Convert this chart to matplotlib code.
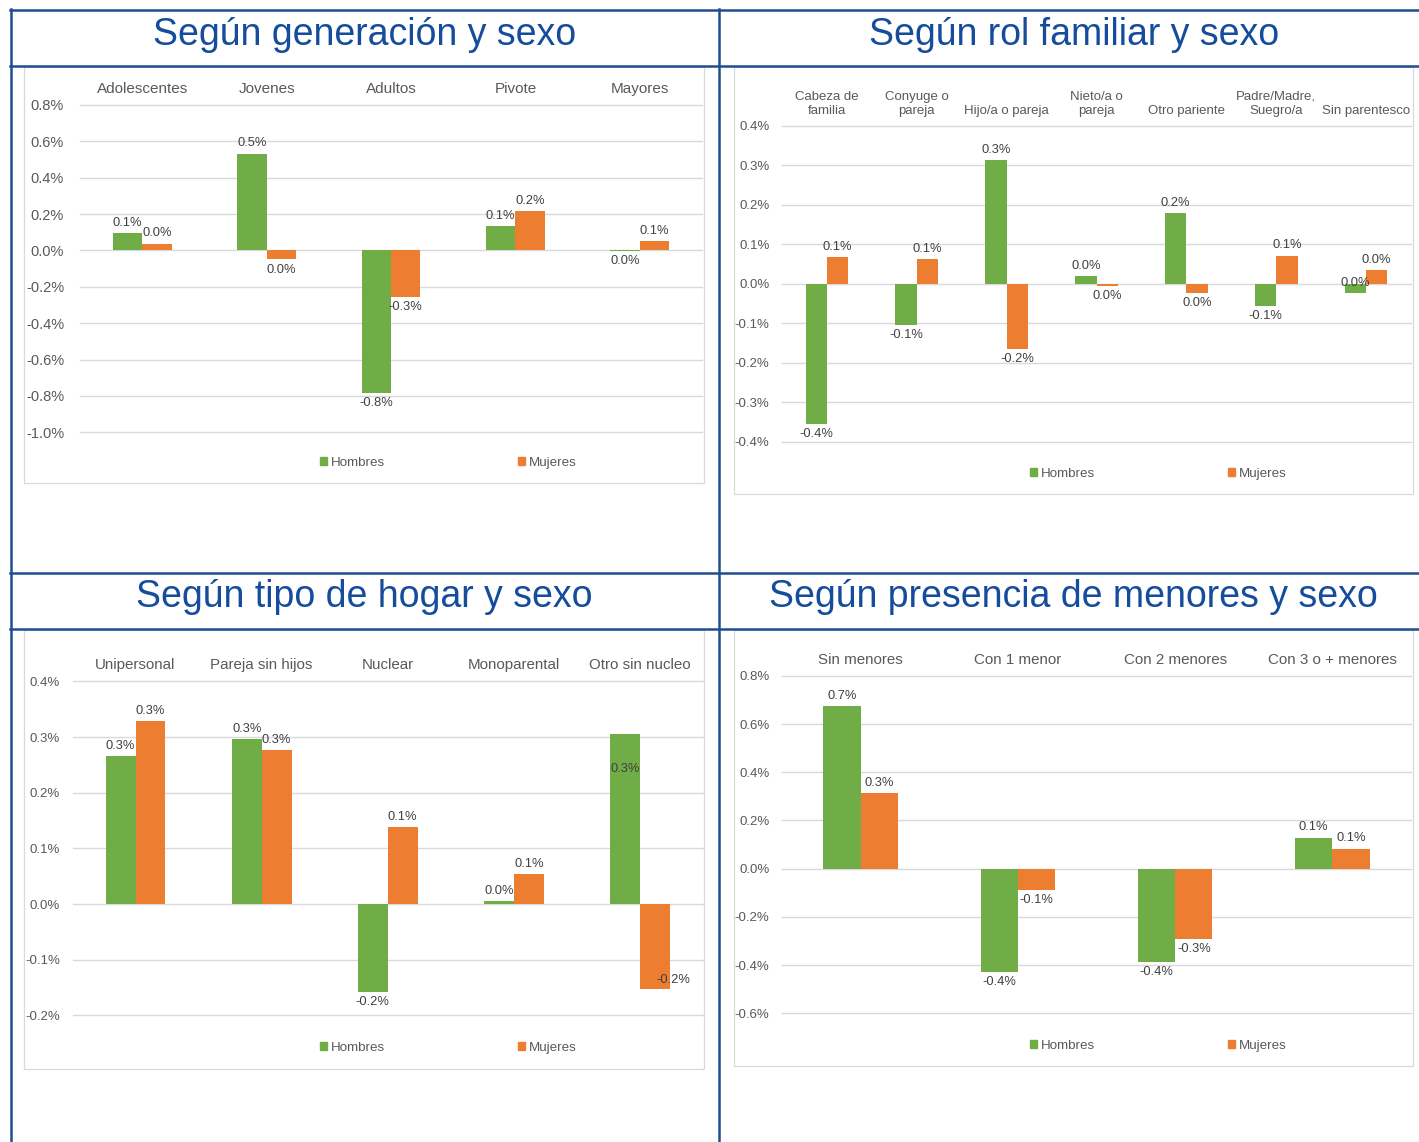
import numpy as np
import matplotlib
matplotlib.use("Agg")
import matplotlib.pyplot as plt
from matplotlib.lines import Line2D
from matplotlib.patches import Rectangle, Patch
from matplotlib.ticker import FuncFormatter

plt.rcParams['font.family'] = ['Liberation Sans', 'DejaVu Sans']

W, H = 1419, 1142

# --- data (percent change) ---
series_names = ['Hombres', 'Mujeres']

gen_title = 'Según generación y sexo'
gen_cats = ['Adolescentes', 'Jovenes', 'Adultos', 'Pivote', 'Mayores']
gen_hombres = [0.095, 0.533, -0.783, 0.134, -0.002]
gen_mujeres = [0.038, -0.049, -0.256, 0.216, 0.052]

rol_title = 'Según rol familiar y sexo'
rol_cats = ['Cabeza de\nfamilia', 'Conyuge o\npareja', 'Hijo/a o pareja', 'Nieto/a o\npareja',
            'Otro pariente', 'Padre/Madre,\nSuegro/a', 'Sin parentesco']
rol_hombres = [-0.356, -0.105, 0.313, 0.019, 0.179, -0.056, -0.024]
rol_mujeres = [0.068, 0.062, -0.166, -0.006, -0.024, 0.071, 0.034]

hogar_title = 'Según tipo de hogar y sexo'
hogar_cats = ['Unipersonal', 'Pareja sin hijos', 'Nuclear', 'Monoparental', 'Otro sin nucleo']
hogar_hombres = [0.265, 0.297, -0.157, 0.005, 0.305]
hogar_mujeres = [0.329, 0.276, 0.139, 0.054, -0.153]

men_title = 'Según presencia de menores y sexo'
men_cats = ['Sin menores', 'Con 1 menor', 'Con 2 menores', 'Con 3 o + menores']
men_hombres = [0.675, -0.427, -0.388, 0.129]
men_mujeres = [0.315, -0.089, -0.291, 0.083]

GREEN = '#70AD47'
ORANGE = '#ED7D31'
GRID = '#D9D9D9'
TXT = '#595959'
LBL = '#404040'
NAVY = '#1F4E8F'
TITLE_C = '#154C9C'


def fx(x):
    return x / W


def fy(y):
    return 1 - y / H


def pct(v, pos=None):
    return f"{round(v, 1) + 0:.1f}%"


fig = plt.figure(figsize=(W / 100, H / 100), dpi=100)

# table grid
for y in [10, 65.5, 573, 629]:
    fig.add_artist(Line2D([fx(10), 1], [fy(y), fy(y)], transform=fig.transFigure, color=NAVY, lw=1.8))
for x in [10.5, 719]:
    fig.add_artist(Line2D([fx(x), fx(x)], [fy(9), 0], transform=fig.transFigure, color=NAVY, lw=1.8))

fig.text(fx(364.5), fy(45), gen_title, ha='center', va='baseline', fontsize=27, color=TITLE_C)
fig.text(fx(1073.7), fy(45), rol_title, ha='center', va='baseline', fontsize=27, color=TITLE_C)
fig.text(fx(364.5), fy(607), hogar_title, ha='center', va='baseline', fontsize=27, color=TITLE_C)
fig.text(fx(1073.7), fy(607), men_title, ha='center', va='baseline', fontsize=27, color=TITLE_C)


def panel(cats, hombres, mujeres, ylim, step, box, plot, leg, cat_fs, tick_fs, ypad, special={}):
    x0, y0, x1, y1 = box
    fig.add_artist(Rectangle((fx(x0), fy(y1)), fx(x1 - x0), (y1 - y0) / H, transform=fig.transFigure,
                             fill=False, edgecolor=GRID, lw=0.9))
    px0, py0, px1, py1 = plot
    ax = fig.add_axes([fx(px0), fy(py1), fx(px1 - px0), (py1 - py0) / H])
    x = np.arange(len(cats))
    w = 0.237
    ax.bar(x - w / 2, hombres, w, color=GREEN, zorder=2)
    ax.bar(x + w / 2, mujeres, w, color=ORANGE, zorder=2)
    ax.set_xlim(-0.5, len(cats) - 0.5)
    ax.set_ylim(*ylim)
    ax.set_yticks(np.arange(ylim[0], ylim[1] + step / 2, step))
    ax.yaxis.set_major_formatter(FuncFormatter(pct))
    ax.set_xticks(x)
    ax.set_xticklabels(cats)
    ax.xaxis.tick_top()
    ax.tick_params(axis='x', length=0, pad=6.5, labelsize=cat_fs, labelcolor=TXT)
    ax.tick_params(axis='y', length=0, pad=ypad, labelsize=tick_fs, labelcolor=TXT)
    for s in ax.spines.values():
        s.set_visible(False)
    ax.set_axisbelow(True)
    ax.yaxis.grid(True, color=GRID, lw=1)
    for gl in ax.get_ygridlines():
        gl.set_clip_on(False)

    for si, (vals, off) in enumerate([(hombres, -w / 2), (mujeres, w / 2)]):
        for i, v in enumerate(vals):
            if (si, i) in special:
                dx, dy, va = special[(si, i)]
            elif v >= 0:
                dx, dy, va = 0, 3, 'bottom'
            else:
                dx, dy, va = 0, -3, 'top'
            ax.annotate(pct(v), (i + off, v), xytext=(dx, dy), textcoords='offset points',
                        ha='center', va=va, fontsize=9.3, color=LBL, zorder=3)

    handles = [Patch(color=GREEN), Patch(color=ORANGE)]
    ax.legend(handles, series_names, loc='center left', bbox_to_anchor=(fx(leg[0]), fy(leg[1])),
              bbox_transform=fig.transFigure, ncol=2, frameon=False, fontsize=9.6,
              handlelength=0.5, handleheight=0.5, handletextpad=0.3, columnspacing=10,
              borderpad=0, borderaxespad=0, labelcolor=TXT)
    return ax


panel(gen_cats, gen_hombres, gen_mujeres, (-1.0, 0.8), 0.2,
      (24, 67, 704, 483), (80, 105, 702, 432.3), (320, 463), 11, 10.5, 11.5)
panel(rol_cats, rol_hombres, rol_mujeres, (-0.4, 0.4), 0.1,
      (734, 67, 1413, 494), (782, 125.7, 1411, 441.7), (1030, 474), 9.5, 9.5, 9,
      special={(0, 6): (0, 7, 'center')})
panel(hogar_cats, hogar_hombres, hogar_mujeres, (-0.2, 0.4), 0.1,
      (24, 630, 704, 1069), (72.5, 681.3, 703, 1015.5), (320, 1048), 10.9, 9.5, 9,
      special={(0, 4): (0, -25, 'center'), (1, 4): (13, 7, 'center')})
panel(men_cats, men_hombres, men_mujeres, (-0.6, 0.8), 0.2,
      (734, 630, 1413, 1066), (782, 675.8, 1411, 1013.3), (1030, 1046), 10.9, 9.5, 9)

fig.savefig('out.png', dpi=100)
